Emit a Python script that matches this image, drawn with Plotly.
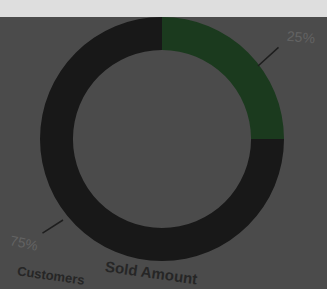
import plotly.graph_objects as go

labels = ["Sold Amount", "Customers"]
values = [25, 75]
pct_labels = ["25%", "75%"]
colors = ["#1b3a1e", "#181818"]

W, H = 327, 289
fig = go.Figure()
fig.add_trace(go.Pie(
    labels=labels, values=values, hole=0.73, sort=False, direction="clockwise",
    rotation=0, marker=dict(colors=colors, line=dict(width=0)),
    textinfo="none", hoverinfo="label+percent", showlegend=False,
    domain=dict(x=[(162 - 122) / W, (162 + 122) / W], y=[1 - 261 / H, 1 - 17 / H]),
))

# top light strip
fig.add_shape(type="rect", xref="paper", yref="paper", x0=0, x1=1, y0=1 - 17 / H, y1=1,
              fillcolor="#dedede", line=dict(width=0), layer="below")

def px(x, y):
    return x / W, 1 - y / H

def leader(hx, hy, tx, ty):
    x, y = px(hx, hy)
    fig.add_annotation(x=x, y=y, xref="paper", yref="paper", ax=tx - hx, ay=ty - hy,
                       text="", showarrow=True, arrowhead=0, arrowwidth=1.5,
                       arrowcolor="#1e1e1e", standoff=0, startstandoff=0)

leader(258, 66, 280, 46)
x, y = px(284, 37)
fig.add_annotation(x=x, y=y, xref="paper", yref="paper", text=pct_labels[0],
                   showarrow=False, font=dict(size=14, color="#636363", family="Liberation Sans"),
                   xanchor="left", yanchor="middle", textangle=5)

leader(63, 220, 41, 234)
x, y = px(42, 243)
fig.add_annotation(x=x, y=y, xref="paper", yref="paper", text=pct_labels[1],
                   showarrow=False, font=dict(size=14, color="#636363", family="Liberation Sans"),
                   xanchor="right", yanchor="middle", textangle=12)

x, y = px(102, 272)
fig.add_annotation(x=x, y=y, xref="paper", yref="paper",
                   text="<b>" + labels[0] + "</b>", showarrow=False, xanchor="left", yanchor="middle",
                   textangle=8, font=dict(size=15, color="#262626", family="Liberation Sans"))
x, y = px(14, 275)
fig.add_annotation(x=x, y=y, xref="paper", yref="paper",
                   text="<b>" + labels[1] + "</b>", showarrow=False, xanchor="left", yanchor="middle",
                   textangle=8, font=dict(size=13, color="#262626", family="Liberation Sans"))

fig.update_layout(width=W, height=H, margin=dict(l=0, r=0, t=0, b=0),
                  paper_bgcolor="#4b4b4b", plot_bgcolor="#4b4b4b")
fig.write_html("out.html", config={"displayModeBar": False},
               post_script="document.body.style.margin='0';document.body.style.overflow='hidden';")
